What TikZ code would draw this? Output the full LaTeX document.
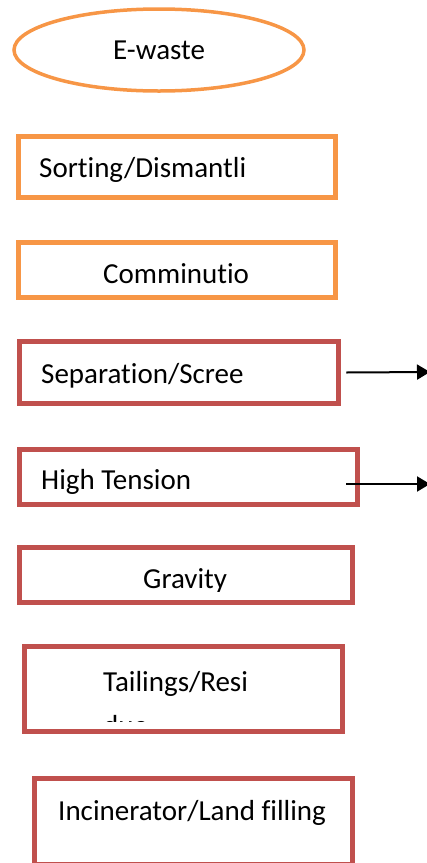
\documentclass[tikz,border=0pt]{standalone}
\usepackage{fontspec}
\setmainfont{Carlito}[Ligatures=NoCommon]
\usetikzlibrary{shapes.geometric,arrows.meta}
\definecolor{wasteorange}{RGB}{247,150,70}
\definecolor{wastered}{RGB}{192,80,77}
\tikzset{%
  orange box/.style = {draw=wasteorange, line width=4.5pt, inner sep=0pt},
  red box/.style = {draw=wastered, line width=4.5pt, inner sep=0pt},
  box text/.style = {anchor=base west, inner sep=0pt,
    font=\fontsize{29}{35}\selectfont},
  out arrow/.style = {line width=2pt, -{Triangle[length=13pt,width=15pt]}}
}
\begin{document}
\begin{tikzpicture}[x=1pt,y=-1pt]
\useasboundingbox (0,0) rectangle (427,863);
% start
\node[ellipse,draw=wasteorange,line width=3.5pt,inner sep=0pt,
  minimum width=290pt,minimum height=82pt] (ewaste) at (159,50) {};
\node[box text] (ewastetext) at (113,59) {E-waste};
% orange steps
\node[orange box,minimum width=317pt,minimum height=61pt] (sort) at (177,167) {};
\node[box text] (sorttext) at (39,177) {Sorting/Dismantli};
\node[orange box,minimum width=317pt,minimum height=55pt] (comm) at (177,270) {};
\node[box text] (commtext) at (103,283) {Comminutio};
% red steps
\node[red box,minimum width=319pt,minimum height=62pt] (sep) at (179,372.5) {};
\node[box text] (septext) at (41,383) {Separation/Scree};
\node[red box,minimum width=338pt,minimum height=55pt] (ht) at (188.5,477) {};
\begin{scope}
  \clip (22,452) rectangle (355,493);
  \node[box text] (httext) at (41,489) {High Tension};
\end{scope}
\node[red box,minimum width=333pt,minimum height=55pt] (grav) at (186,575) {};
\begin{scope}
  \clip (22,550) rectangle (350,591);
  \node[box text] (gravtext) at (143,588) {Gravity};
\end{scope}
\node[red box,minimum width=318pt,minimum height=85pt] (tail) at (183.5,689) {};
\begin{scope}
  \clip (27,649) rectangle (340,721);
  \node[box text] (tailtext) at (103,691) {Tailings/Resi};
  \node[box text] (tailtextb) at (103,735) {due};
\end{scope}
\node[red box,minimum width=318pt,minimum height=85.5pt] (inc) at (193.5,821) {};
\node[box text] (inctext) at (58,820) {Incinerator/Land filling};
% side outputs
\coordinate (sepout) at (430,372);
\coordinate (htout) at (430,484);
\draw[out arrow] ([xshift=5.5pt]sep.east) -- (sepout);
\draw[out arrow] ([xshift=-13.5pt,yshift=-7pt]ht.east) -- (htout);
\end{tikzpicture}
\end{document}
